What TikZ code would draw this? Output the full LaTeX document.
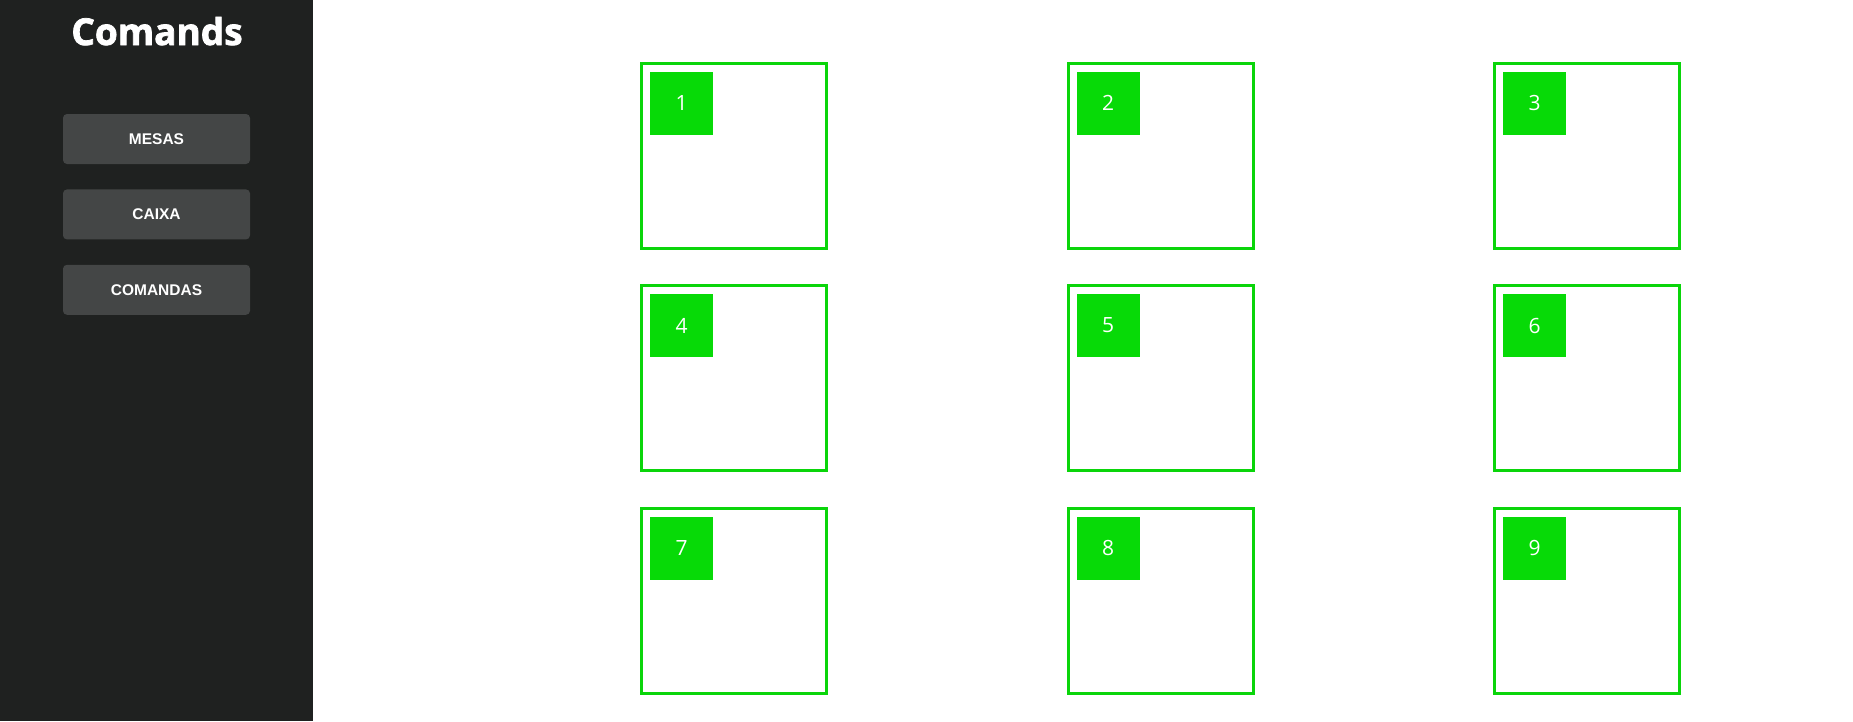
\documentclass[tikz,border=0pt]{standalone}
\usepackage{fontspec}
\setmainfont{Open Sans}
\newfontfamily\btnfont{Liberation Sans}
\newfontfamily\titlefont{Open Sans}[BoldFeatures={FakeBold=2}]
\usetikzlibrary{positioning}
\definecolor{sidebar}{HTML}{1F2120}
\definecolor{botao}{HTML}{444646}
\definecolor{verde}{HTML}{0AD50A}
\definecolor{verdeclaro}{HTML}{07DA07}
\tikzset{
  menu/.style={fill=botao, rounded corners=4pt, minimum width=187pt, minimum height=50pt, inner sep=0pt, text=white, font=\btnfont\bfseries\fontsize{15.5}{16}\selectfont},
  mesa/.style={draw=verde, line width=3pt, minimum size=185pt, inner sep=0pt, outer sep=0pt},
  numero/.style={fill=verdeclaro, minimum size=63pt, inner sep=0pt, outer sep=0pt, text=white, font=\fontsize{21}{22}\selectfont},
}

\begin{document}
\begin{tikzpicture}[x=1pt,y=-1pt]
\useasboundingbox (0,0) rectangle (1853,721);
\fill[white] (0,0) rectangle (1853,721);
% barra lateral
\fill[sidebar] (0,0) rectangle (313,721);
\node[text=white, font=\titlefont\bfseries\fontsize{37}{40}\selectfont, anchor=base] (titulo) at (157,45) {Comands};
\node[menu] (mesas) at (156.5,139) {MESAS};
\node[menu, below=25pt of mesas] (caixa) {CAIXA};
\node[menu, below=25pt of caixa] (comandas) {COMANDAS};
% mesas
\foreach \lin in {0,1,2}
  \foreach \col in {0,1,2} {
    \pgfmathtruncatemacro\n{3*\lin+\col+1}
    \node[mesa] (mesa\n) at (734+426.5*\col, 155.5+222.5*\lin) {};
    \node[numero, below right=8.5pt and 8.5pt of mesa\n.north west] (num\n) {\n};
  }
\end{tikzpicture}
\end{document}
